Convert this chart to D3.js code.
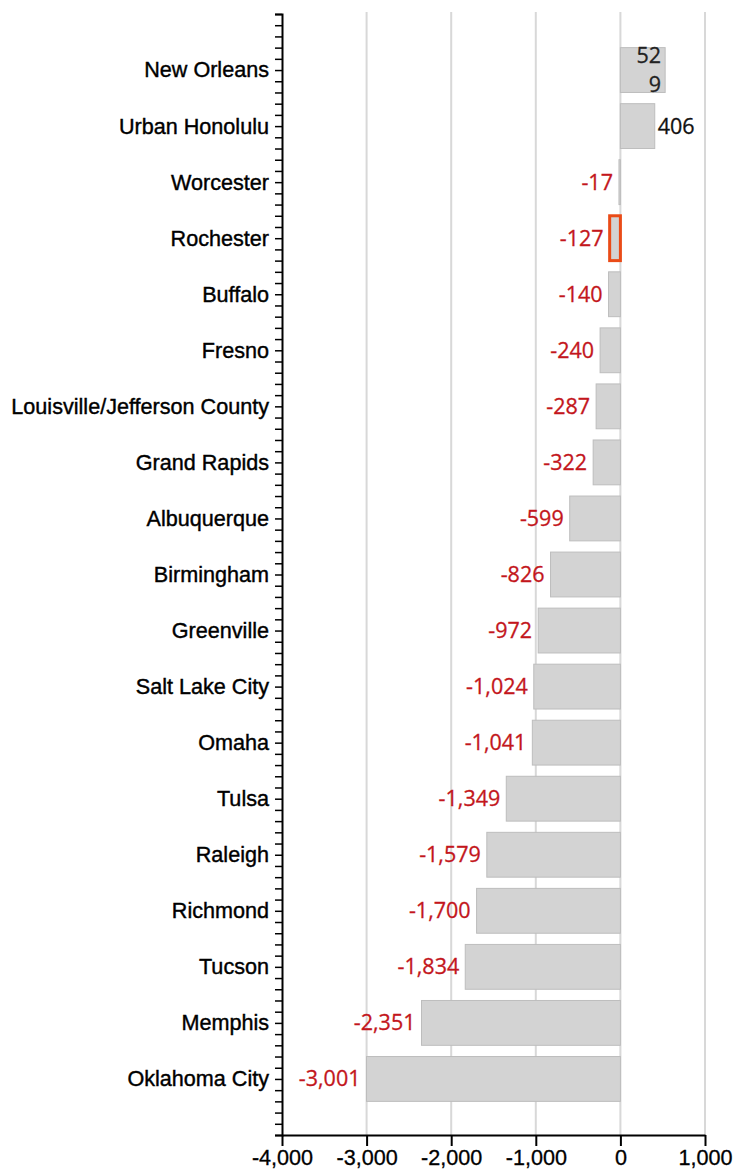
<!DOCTYPE html>
<html>
<head>
<meta charset="utf-8">
<script src="https://cdn.jsdelivr.net/npm/d3@7"></script>
<style>
  body { margin: 0; background: #fff; }
  svg { display: block; }
</style>
</head>
<body>
<svg id="chart" width="734" height="1175"></svg>
<script>
// city names, top to bottom
var cities = ["New Orleans", "Urban Honolulu", "Worcester", "Rochester", "Buffalo", "Fresno",
    "Louisville/Jefferson County", "Grand Rapids", "Albuquerque", "Birmingham", "Greenville",
    "Salt Lake City", "Omaha", "Tulsa", "Raleigh", "Richmond", "Tucson", "Memphis", "Oklahoma City"];
var values = [529, 406, -17, -127, -140, -240, -287, -322, -599, -826, -972,
    -1024, -1041, -1349, -1579, -1700, -1834, -2351, -3001];
var xTicks = [-4000, -3000, -2000, -1000, 0, 1000];
var highlighted = "Rochester";

var svg = d3.select("#chart");
// plain hyphen for minus, like the original
var fmt = d3.formatLocale({decimal: ".", thousands: ",", grouping: [3], currency: ["$", ""], minus: "-"}).format(",");

var x = d3.scaleLinear().domain([-4000, 1000]).range([282, 705]);
// categories sit at 1..19 on a 0..20 linear axis
var y = d3.scaleLinear().domain([0, 20]).range([14, 1135]);
var step = y(1) - y(0);
var barH = step * 0.8;

//gridlines
svg.append("g").selectAll("line")
    .data(xTicks.slice(1))
    .enter().append("line")
    .attr("x1", function (d) { return x(d); })
    .attr("x2", function (d) { return x(d); })
    .attr("y1", y(0) - 2)
    .attr("y2", y(20))
    .attr("stroke", "#d8d8d8")
    .attr("stroke-width", 2);

//bars
svg.append("g").selectAll("rect")
    .data(values)
    .enter().append("rect")
    .attr("x", function (d) { return x(Math.min(0, d)); })
    .attr("y", function (d, i) { return y(i + 1) - barH / 2; })
    .attr("width", function (d) { return Math.abs(x(d) - x(0)); })
    .attr("height", barH)
    .attr("fill", "#d3d3d3")
    .attr("stroke", function (d, i) { return cities[i] == highlighted ? "#ea4b17" : "#bdbdbd"; })
    .attr("stroke-width", function (d, i) { return cities[i] == highlighted ? 3 : 1; });

//value labels
var labels = svg.append("g")
    .style("font-family", "'Open Sans', 'Noto Sans', sans-serif")
    .style("font-size", "21.5px")
    .attr("stroke-width", 0.3);

values.forEach(function (v, i) {
    var cy = y(i + 1);
    var txt = fmt(v);
    if (v < 0) {
        labels.append("text")
            .attr("x", x(v) - 6)
            .attr("y", cy)
            .attr("dy", "0.35em")
            .attr("text-anchor", "end")
            .attr("fill", "#c3161c")
            .attr("stroke", "#c3161c")
            .text(txt);
        return;
    }
    var t = labels.append("text")
        .attr("x", x(v) + 3)
        .attr("y", cy)
        .attr("dy", "0.35em")
        .attr("fill", "#111")
        .attr("stroke", "#111")
        .text(txt);
    var w = t.node().getComputedTextLength();
    if (x(v) + 3 + w > 700) {
        // does not fit outside: put it inside the bar and wrap to the bar width
        t.remove();
        var avail = Math.abs(x(v) - x(0)) - 12;
        var lines = [], cur = "";
        var probe = labels.append("text");
        for (var c = 0; c < txt.length; c++) {
            probe.text(cur + txt[c]);
            if (cur != "" && probe.node().getComputedTextLength() > avail) {
                lines.push(cur);
                cur = txt[c];
            } else {
                cur = cur + txt[c];
            }
        }
        lines.push(cur);
        probe.remove();
        var lh = 29;
        lines.forEach(function (s, k) {
            labels.append("text")
                .attr("x", x(v) - 4)
                .attr("y", cy - (lines.length - 1) * lh / 2 + k * lh)
                .attr("dy", "0.35em")
                .attr("text-anchor", "end")
                .attr("fill", "#222")
                .attr("stroke", "#222")
                .text(s);
        });
    }
});

//y axis with minor ticks every 0.2
var yAxis = d3.axisLeft(y)
    .tickValues(d3.range(0, 101).map(function (k) { return k / 5; }))
    .tickSize(7)
    .tickPadding(6)
    .tickFormat(function (d) {
        var r = Math.round(d);
        if (Math.abs(d - r) < 1e-6 && r >= 1 && r <= cities.length) return cities[r - 1];
        return "";
    });

var gy = svg.append("g")
    .attr("transform", "translate(" + x(-4000) + ",0)")
    .call(yAxis);
gy.select(".domain").attr("stroke", "#000").attr("stroke-width", 2);
gy.selectAll(".tick line").attr("stroke", "#000").attr("stroke-width", 1.5);
gy.selectAll("text")
    .style("font-family", "'Liberation Sans', Arial, sans-serif")
    .style("font-size", "21.6px")
    .attr("fill", "#000")
    .attr("stroke", "#000")
    .attr("stroke-width", 0.4);

//x axis
var xAxis = d3.axisBottom(x)
    .tickValues(xTicks)
    .tickSize(11)
    .tickSizeOuter(0)
    .tickPadding(4)
    .tickFormat(fmt);

var gx = svg.append("g")
    .attr("transform", "translate(0," + y(20) + ")")
    .call(xAxis);
gx.select(".domain").attr("stroke", "#000").attr("stroke-width", 2);
gx.selectAll(".tick line").attr("stroke", "#000").attr("stroke-width", 2);
gx.selectAll("text")
    .style("font-family", "'Liberation Sans', Arial, sans-serif")
    .style("font-size", "21.6px")
    .attr("fill", "#000")
    .attr("stroke", "#000")
    .attr("stroke-width", 0.3);
</script>
</body>
</html>
